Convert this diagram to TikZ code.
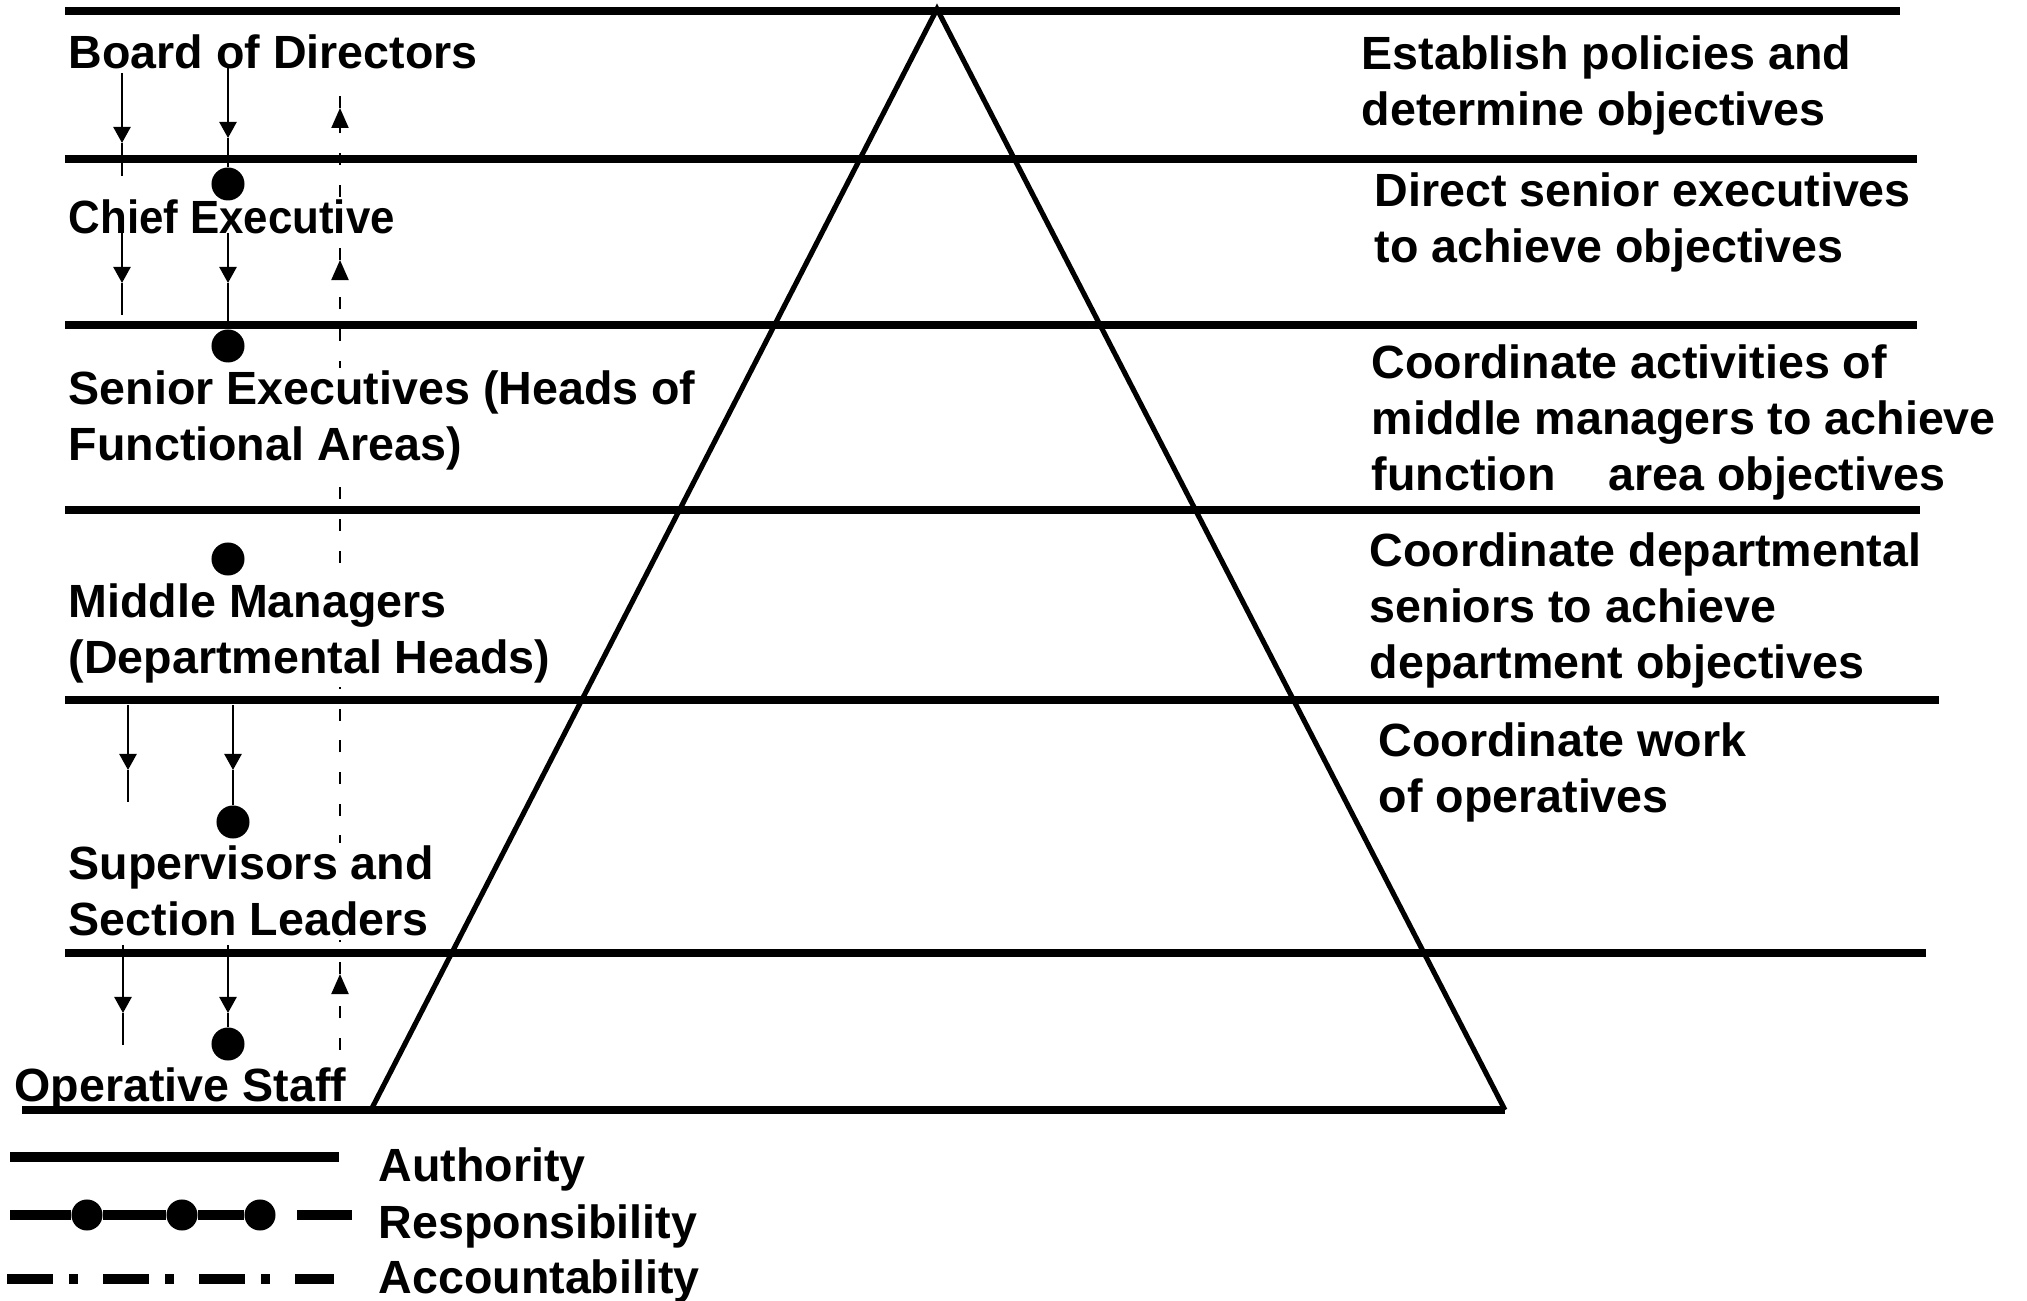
\documentclass[tikz,border=0pt]{standalone}
\usepackage{fontspec}
\setmainfont{Liberation Sans}
\usetikzlibrary{arrows.meta}
\begin{document}
\begin{tikzpicture}[x=0.01cm, y=-0.01cm,
  lbl/.style={font=\fontsize{13.25pt}{15.9pt}\selectfont\bfseries, inner sep=0pt, anchor=base west},
  mask/.style={fill=white, inner ysep=1pt},
  band/.style={line width=2pt, line cap=butt},
  pyr/.style={line width=1.45pt, line join=miter},
  thinln/.style={line width=0.7pt},
  acc/.style={line width=0.6pt, dash pattern=on 3.4pt off 5.6pt},
  tipA/.style={-{Triangle[length=1.6mm,width=1.7mm]}},
  tipC/.style={-{Triangle[length=2mm,width=1.7mm]}},
  dot/.style={circle, fill=black, inner sep=0pt, minimum size=0.33cm},
  ldot/.style={circle, fill=black, inner sep=0pt, minimum size=0.31cm},
  legline/.style={line width=2.6pt, line cap=butt}
]
\useasboundingbox (0,0) rectangle (2027,1301);

% horizontal bands
\coordinate (L1a) at (65,11);  \coordinate (L1b) at (1900,11);
\coordinate (L2a) at (65,159); \coordinate (L2b) at (1917,159);
\coordinate (L3a) at (65,325); \coordinate (L3b) at (1917,325);
\coordinate (L4a) at (65,510); \coordinate (L4b) at (1920,510);
\coordinate (L5a) at (65,700); \coordinate (L5b) at (1939,700);
\coordinate (L6a) at (65,953); \coordinate (L6b) at (1926,953);
\draw[band] (L1a) -- (L1b);
\draw[band] (L2a) -- (L2b);
\draw[band] (L3a) -- (L3b);
\draw[band] (L4a) -- (L4b);
\draw[band] (L5a) -- (L5b);
\draw[band] (L6a) -- (L6b);

% pyramid
\coordinate (apex) at (937,9);
\coordinate (bl) at (371,1110);
\coordinate (br) at (1505,1110);
\coordinate (L7a) at (22,1110);
\draw[pyr] (bl) -- (apex) -- (br);
\draw[band] (L7a) -- (br);

% accountability column (dashed, upward)
\coordinate (c0) at (340,1050);
\coordinate (c1) at (340,974);
\coordinate (c2) at (340,260);
\coordinate (c3) at (340,108);
\coordinate (c4) at (340,78);
\draw[acc,tipC] (c0) -- (c1);
\draw[acc,tipC] (c1) -- (c2);
\draw[acc,tipC] (c2) -- (c3);
\draw[acc] (c3) -- (c4);

% left labels
\node[lbl] (board) at (68,69) {Board of Directors};
\node[lbl] (chief) at (68,234) {\scalebox{0.94}[1]{Chief Executive}};
\node[lbl,mask] (senior1) at (68,405) {Senior Executives (Heads of};
\node[lbl,mask] (senior2) at (68,461) {Functional Areas)};
\node[lbl,mask] (middle1) at (68,618) {Middle Managers};
\node[lbl,mask] (middle2) at (68,674) {(Departmental Heads)};
\node[lbl,mask] (sup1) at (68,880) {Supervisors and};
\node[lbl,mask] (sup2) at (68,936) {Section Leaders};
\node[lbl] (oper) at (14,1101) {Operative Staff};

% right labels
\node[lbl] (r1a) at (1361,70) {Establish policies and};
\node[lbl] (r1b) at (1361,126) {determine objectives};
\node[lbl] (r2a) at (1374,207) {Direct senior executives};
\node[lbl] (r2b) at (1374,263) {to achieve objectives};
\node[lbl] (r3a) at (1371,379) {Coordinate activities of};
\node[lbl] (r3b) at (1371,435) {middle managers to achieve};
\node[lbl] (r3c) at (1371,491) {function\hspace{0.53cm}area objectives};
\node[lbl] (r4a) at (1369,567) {Coordinate departmental};
\node[lbl] (r4b) at (1369,623) {seniors to achieve};
\node[lbl] (r4c) at (1369,679) {department objectives};
\node[lbl] (r5a) at (1378,757) {Coordinate work};
\node[lbl] (r5b) at (1378,813) {of operatives};

% responsibility dots
\node[dot] (d1) at (228,184) {};
\node[dot] (d2) at (228,346) {};
\node[dot] (d3) at (228,559) {};
\node[dot] (d4) at (233,822) {};
\node[dot] (d5) at (228,1044) {};

% authority column
\coordinate (a1s) at (122,73);  \coordinate (a1t) at (122,143);  \coordinate (a1e) at (122,176);
\coordinate (a2s) at (122,233); \coordinate (a2t) at (122,283);  \coordinate (a2e) at (122,315);
\coordinate (a3s) at (128,705); \coordinate (a3t) at (128,770);  \coordinate (a3e) at (128,802);
\coordinate (a4s) at (123,945); \coordinate (a4t) at (123,1013); \coordinate (a4e) at (123,1045);
\draw[thinln,tipA] (a1s) -- (a1t); \draw[thinln] (a1t) -- (a1e);
\draw[thinln,tipA] (a2s) -- (a2t); \draw[thinln] (a2t) -- (a2e);
\draw[thinln,tipA] (a3s) -- (a3t); \draw[thinln] (a3t) -- (a3e);
\draw[thinln,tipA] (a4s) -- (a4t); \draw[thinln] (a4t) -- (a4e);

% responsibility column
\coordinate (b1s) at (228,68);  \coordinate (b1t) at (228,138);
\coordinate (b2s) at (228,233); \coordinate (b2t) at (228,283);
\coordinate (b3s) at (233,705); \coordinate (b3t) at (233,770);
\coordinate (b4s) at (228,945); \coordinate (b4t) at (228,1013);
\draw[thinln,tipA] (b1s) -- (b1t); \draw[thinln] (b1t) -- (d1);
\draw[thinln,tipA] (b2s) -- (b2t); \draw[thinln] (b2t) -- (d2);
\draw[thinln,tipA] (b3s) -- (b3t); \draw[thinln] (b3t) -- (d4);
\draw[thinln,tipA] (b4s) -- (b4t); \draw[thinln] (b4t) -- (d5);

% legend
\coordinate (la1) at (10,1157); \coordinate (la2) at (339,1157);
\draw[legline] (la1) -- (la2);
\node[lbl] (lauth) at (378,1182) {Authority};

\coordinate (lr0) at (10,1215);
\node[ldot] (lrd1) at (87,1215) {};
\node[ldot] (lrd2) at (182,1215) {};
\node[ldot] (lrd3) at (260,1215) {};
\draw[legline] (lr0) -- (lrd1) -- (lrd2) -- (lrd3);
\coordinate (lr4) at (297,1215); \coordinate (lr5) at (352,1215);
\draw[legline] (lr4) -- (lr5);
\node[lbl] (lresp) at (378,1238) {Responsibility};

\coordinate (lc1) at (7,1279); \coordinate (lc2) at (334,1279);
\draw[line width=3pt, line cap=butt, dash pattern=on 13.1pt off 4.55pt on 2.56pt off 7.1pt] (lc1) -- (lc2);
\node[lbl] (lacc) at (378,1293) {Accountability};
\end{tikzpicture}
\end{document}
